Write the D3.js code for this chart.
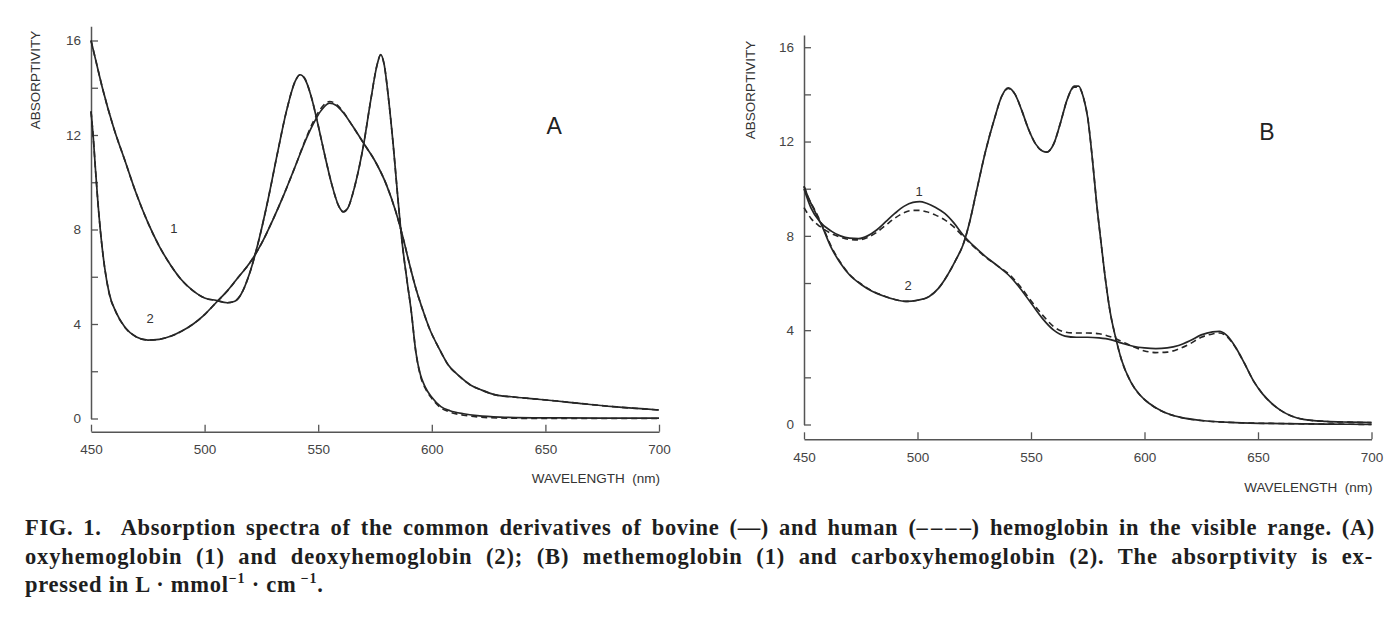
<!DOCTYPE html>
<html><head><meta charset="utf-8">
<script src="https://cdn.jsdelivr.net/npm/d3@7"></script>
<style>body{margin:0;background:#fff}svg{display:block}</style>
</head><body>
<svg id="c" width="1400" height="617"></svg>
<script>
// ---------- tick labels / text ----------
const xTicks = [450, 500, 550, 600, 650, 700];
const yTicks = [0, 2, 4, 6, 8, 10, 12, 14, 16];
const yLabelled = [0, 4, 8, 12, 16];
const panelLetters = ["A", "B"];
const curveNames = ["1", "2"];
const yTitle = "ABSORPTIVITY";
const xTitle = "WAVELENGTH  (nm)";

// ---------- Panel A: oxyhemoglobin (1) ----------
const wlA1 = [450,452,455,460,465,470,475,480,485,490,495,500,505,510,513,516,520,524,528,532,536,540,542,544,547,550,553,556,559,561,563,566,570,573,576,577.5,579,581,583,585,587,589,591,593,595,597,600,604,608,614,620,630,650,675,700];
const aOxyBovine = [16.0,15.2,14.0,12.3,10.9,9.5,8.3,7.3,6.5,5.85,5.4,5.1,5.0,4.9,4.95,5.25,6.2,7.6,9.3,11.2,13.0,14.3,14.55,14.4,13.6,12.4,11.1,9.9,9.0,8.75,8.9,9.8,11.6,13.4,15.0,15.4,15.0,13.5,11.6,9.4,7.4,5.9,4.5,2.8,1.85,1.35,0.9,0.5,0.33,0.2,0.12,0.06,0.03,0.02,0.02];
const aOxyHuman  = [16.0,15.2,14.0,12.3,10.9,9.5,8.3,7.3,6.5,5.85,5.4,5.1,5.0,4.9,4.95,5.25,6.2,7.6,9.3,11.2,13.0,14.3,14.55,14.4,13.6,12.4,11.1,9.9,9.0,8.75,8.9,9.8,11.6,13.4,15.0,15.4,15.0,13.5,11.6,9.4,7.4,5.9,4.5,2.8,1.8,1.3,0.85,0.45,0.27,0.14,0.07,0.02,0.0,0.0,0.0];

// ---------- Panel A: deoxyhemoglobin (2) ----------
const wlA2 = [450,451,452,453,454.5,456,458,461,465,470,475,480,485,490,495,500,505,510,515,520,525,530,535,540,545,548,551,555,558,561,565,570,575,580,584,588,590,593,596,599,603,607,612,617,622,628,635,645,655,665,680,700];
const aDeoxyBovine = [13.0,11.9,10.5,9.2,7.6,6.4,5.3,4.5,3.85,3.45,3.32,3.35,3.48,3.7,4.0,4.4,4.9,5.4,6.0,6.6,7.4,8.4,9.5,10.7,11.9,12.5,13.0,13.35,13.25,12.95,12.4,11.65,10.9,9.9,8.8,7.4,6.6,5.5,4.6,3.8,3.0,2.3,1.8,1.42,1.2,1.0,0.92,0.83,0.74,0.64,0.5,0.36];
const aDeoxyHuman  = [13.0,11.9,10.5,9.2,7.6,6.4,5.3,4.5,3.85,3.45,3.32,3.35,3.48,3.7,4.0,4.4,4.9,5.4,6.0,6.6,7.4,8.4,9.5,10.7,11.95,12.6,13.1,13.42,13.3,12.98,12.4,11.65,10.9,9.9,8.8,7.4,6.6,5.5,4.6,3.8,3.0,2.3,1.8,1.42,1.2,1.0,0.92,0.83,0.74,0.64,0.5,0.36];

// ---------- Panel B: methemoglobin (1) ----------
const wlB1 = [450,453,457,462,466,470,474,478,482,486,490,494,498,501,504,508,512,516,520,525,530,535,540,545,550,555,560,565,570,575,580,585,590,595,600,605,610,615,620,625,630,633,636,640,644,648,652,656,660,665,670,680,690,700];
const bMetBovine = [10.0,9.2,8.6,8.2,8.0,7.9,7.88,8.0,8.25,8.6,8.95,9.25,9.42,9.45,9.38,9.2,8.95,8.55,8.05,7.55,7.12,6.75,6.35,5.8,5.15,4.5,4.0,3.75,3.7,3.7,3.67,3.6,3.45,3.32,3.25,3.22,3.25,3.35,3.55,3.8,3.93,3.95,3.8,3.3,2.6,1.85,1.3,0.9,0.6,0.35,0.22,0.13,0.1,0.08];
const bMetHuman  = [9.2,8.75,8.4,8.1,7.95,7.85,7.83,7.93,8.15,8.45,8.75,8.98,9.08,9.08,9.02,8.88,8.68,8.38,7.98,7.52,7.1,6.75,6.4,5.88,5.25,4.65,4.15,3.92,3.88,3.88,3.85,3.72,3.52,3.3,3.12,3.05,3.07,3.2,3.42,3.7,3.84,3.88,3.75,3.28,2.6,1.85,1.3,0.9,0.6,0.35,0.22,0.13,0.1,0.08];

// ---------- Panel B: carboxyhemoglobin (2) ----------
const wlB2 = [450,452,455,458,462,466,470,475,480,485,490,495,500,505,509,513,517,520,523,526,530,534,537,540,543,546,549,552,555,557,560,563,566,569,571,573,575,577,579,581,583,585,587,590,594,598,602,608,616,625,640,660,680,700];
const bCarboxyBovine = [10.1,9.6,9.0,8.4,7.5,6.85,6.35,5.95,5.65,5.45,5.3,5.22,5.27,5.42,5.75,6.3,7.0,7.6,8.6,9.9,11.6,13.0,13.9,14.28,14.0,13.3,12.5,11.9,11.6,11.55,11.9,12.8,13.8,14.35,14.35,13.9,13.0,11.3,9.3,7.6,6.0,4.7,3.8,2.7,1.8,1.25,0.9,0.55,0.3,0.17,0.08,0.04,0.02,0.0];
const bCarboxyHuman  = [10.1,9.6,9.05,8.45,7.55,6.88,6.37,5.97,5.67,5.46,5.3,5.22,5.27,5.42,5.75,6.3,7.0,7.6,8.6,9.9,11.6,13.0,13.9,14.25,14.0,13.3,12.5,11.9,11.6,11.55,11.9,12.8,13.8,14.3,14.3,13.9,13.0,11.3,9.3,7.6,6.0,4.7,3.8,2.7,1.8,1.25,0.9,0.55,0.3,0.17,0.08,0.04,0.02,0.0];

// ---------- curve label anchors (wavelength, absorptivity) ----------
const labelWlA = [486.5, 476];
const labelValA = [8.05, 4.22];
const labelWlB = [500.7, 495.9];
const labelValB = [9.87, 5.92];
const letterWl = 653.9;
const letterVal = 12.4;

// ---------- caption ----------
const captionLines = [
  "FIG. 1.  Absorption spectra of the common derivatives of bovine (—) and human (–\u200A–\u200A–\u200A–) hemoglobin in the visible range. (A)",
  "oxyhemoglobin (1) and deoxyhemoglobin (2); (B) methemoglobin (1) and carboxyhemoglobin (2). The absorptivity is ex-"
];

// ---------- drawing ----------
const svg = d3.select("#c");
const ink = "#262626";
const axisInk = "#555";

const panels = [
  { xr: [91, 659], y0: 418.5, yU: 23.625, yTop: 16.6, xAxisY: 431.7, yTitleX: 35, yTitleY: 80, xTitleY: 483,
    series: [[wlA1, aOxyBovine, aOxyHuman], [wlA2, aDeoxyBovine, aDeoxyHuman]],
    lw: labelWlA, lv: labelValA, letter: panelLetters[0] },
  { xr: [804, 1371.5], y0: 424.5, yU: 23.58, yTop: 16.52, xAxisY: 439.3, yTitleX: 750, yTitleY: 90, xTitleY: 492,
    series: [[wlB1, bMetBovine, bMetHuman], [wlB2, bCarboxyBovine, bCarboxyHuman]],
    lw: labelWlB, lv: labelValB, letter: panelLetters[1] }
];

panels.forEach(p => {
  const x = d3.scaleLinear().domain([450, 700]).range(p.xr);
  const y = d3.scaleLinear().domain([0, 16]).range([p.y0, p.y0 - 16 * p.yU]);
  const yAx = d3.scaleLinear().domain([0, p.yTop]).range([y(0), y(p.yTop)]);
  const g = svg.append("g");

  const ya = g.append("g").attr("transform", `translate(${p.xr[0]},0)`)
    .call(d3.axisLeft(yAx).tickValues(yTicks)
      .tickFormat(d => yLabelled.includes(d) ? d : "")
      .tickSizeInner(-7).tickSizeOuter(0).tickPadding(10));
  const xa = g.append("g").attr("transform", `translate(0,${p.xAxisY})`)
    .call(d3.axisBottom(x).tickValues(xTicks).tickFormat(d3.format("d"))
      .tickSizeInner(-7).tickSizeOuter(0).tickPadding(13));
  [ya, xa].forEach(a => {
    a.select(".domain").attr("stroke", axisInk).attr("stroke-width", 1.5);
    a.selectAll(".tick line").attr("stroke", axisInk).attr("stroke-width", 1.3);
    a.selectAll(".tick text").attr("fill", "#444")
      .style("font-family", "'Liberation Sans', Arial, sans-serif").style("font-size", "13.5px");
  });

  g.append("text").attr("transform", `translate(${p.yTitleX},${p.yTitleY}) rotate(-90)`)
    .attr("text-anchor", "middle").attr("dy", "0.35em")
    .style("font-family", "'Liberation Sans', Arial, sans-serif").style("font-size", "13.5px")
    .attr("fill", "#333").text(yTitle);
  g.append("text").attr("x", p.xr[1] + 1).attr("y", p.xTitleY)
    .attr("text-anchor", "end").attr("xml:space", "preserve").style("white-space", "pre")
    .style("font-family", "'Liberation Sans', Arial, sans-serif").style("font-size", "13.5px")
    .attr("fill", "#333").text(xTitle);

  p.series.forEach(([wl, bov, hum]) => {
    const line = d3.line().x((d, i) => x(wl[i])).y(d => y(d)).curve(d3.curveMonotoneX);
    g.append("path").attr("d", line(hum)).attr("fill", "none")
      .attr("stroke", ink).attr("stroke-width", 1.6).attr("stroke-dasharray", "6,4");
    g.append("path").attr("d", line(bov)).attr("fill", "none")
      .attr("stroke", ink).attr("stroke-width", 1.7);
  });

  curveNames.forEach((n, i) => {
    g.append("text").attr("x", x(p.lw[i])).attr("y", y(p.lv[i]))
      .attr("text-anchor", "middle").attr("dy", "0.36em")
      .style("font-family", "'Liberation Sans', Arial, sans-serif").style("font-size", "13px")
      .attr("fill", "#333").text(n);
  });

  g.append("text").attr("x", x(letterWl)).attr("y", y(letterVal))
    .attr("text-anchor", "middle").attr("dy", "0.36em")
    .style("font-family", "'Liberation Sans', Arial, sans-serif").style("font-size", "23px")
    .attr("fill", "#222").text(p.letter);
});

// caption (justified lines 1-2)
const capStyle = sel => sel.style("font-family", "'Liberation Serif', 'Times New Roman', serif")
  .style("font-size", "22.5px").style("font-weight", "bold").attr("fill", "#1e1e1e");
const capBase = [535, 563.5, 592];
const capTargets = [1350, 1348];
let avgLs = 0;
captionLines.forEach((t, i) => {
  const tx = svg.append("text").attr("x", 25).attr("y", capBase[i]).call(capStyle)
    .attr("xml:space", "preserve").text(t);
  const len = tx.node().getComputedTextLength();
  const sp = (t.match(/ /g) || []).length;
  const extra = capTargets[i] - len;
  const ls = extra * 0.5 / t.length;
  const ws = extra * 0.5 / sp;
  avgLs += ls / 2;
  tx.attr("letter-spacing", ls).attr("word-spacing", ws);
});
const l3 = svg.append("text").attr("x", 25).attr("y", capBase[2]).call(capStyle).attr("letter-spacing", avgLs);
l3.append("tspan").text("pressed in L · mmol");
l3.append("tspan").attr("dy", -9).style("font-size", "14px").text("−1");
l3.append("tspan").attr("dy", 9).text(" · cm");
l3.append("tspan").attr("dy", -9).style("font-size", "14px").text(" −1");
l3.append("tspan").attr("dy", 9).text(".");
</script>
</body></html>
